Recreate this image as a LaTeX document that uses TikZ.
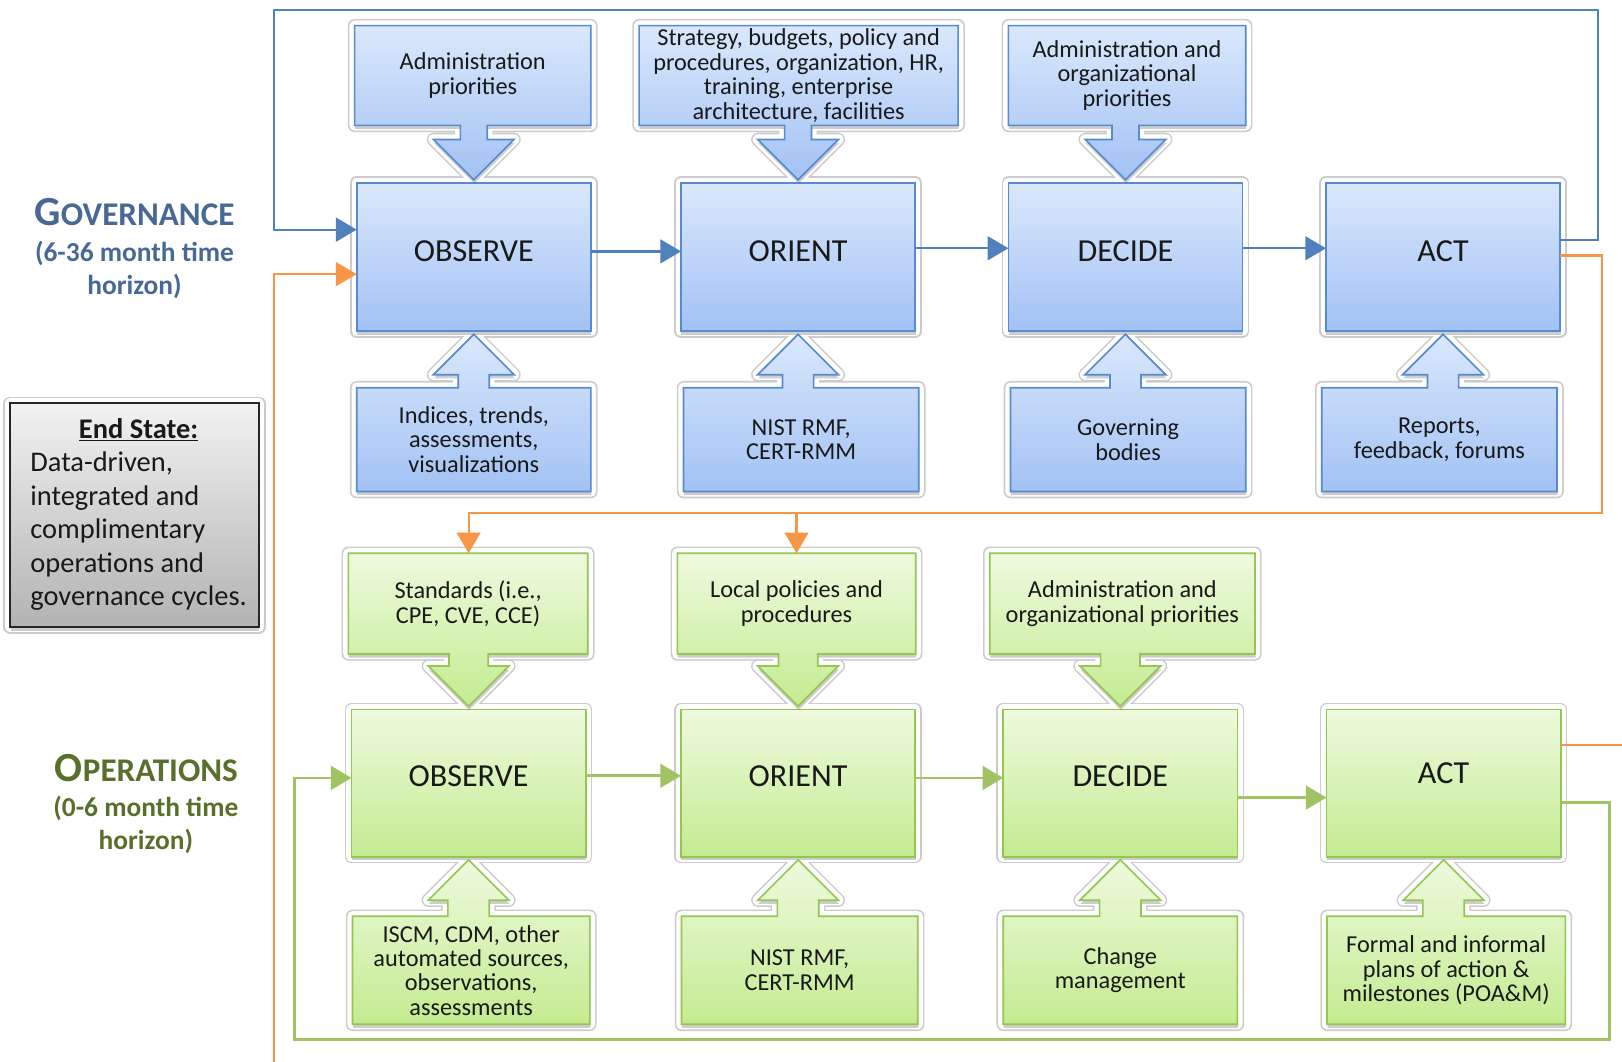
\documentclass[tikz,border=0pt]{standalone}
\usepackage{fontspec}
\setmainfont{Carlito}
\usetikzlibrary{arrows.meta,shadows,calc}

\pgfdeclarelayer{paper}
\pgfdeclarelayer{ringout}
\pgfdeclarelayer{ringin}
\pgfdeclarelayer{shapes}
\pgfsetlayers{paper,ringout,ringin,shapes,main}

\definecolor{bluetop}{RGB}{218,232,252}
\definecolor{bluebot}{RGB}{162,194,244}
\definecolor{blueedge}{RGB}{88,138,208}
\definecolor{greentop}{RGB}{238,250,222}
\definecolor{greenbot}{RGB}{196,235,144}
\definecolor{greenedge}{RGB}{148,198,82}
\definecolor{ink}{RGB}{25,25,25}
\definecolor{ringcol}{RGB}{204,204,204}
\definecolor{cBlueLine}{RGB}{79,129,189}
\definecolor{cOrange}{RGB}{247,150,70}
\definecolor{cGreenLine}{RGB}{160,195,100}
\definecolor{govcol}{RGB}{72,104,150}
\definecolor{opscol}{RGB}{88,112,44}

% fixed line spacing even when lines would touch
\newcommand\tightlines{\lineskiplimit-50pt\relax}
\newcommand\feedfont{\fontsize{23.5}{23.6}\selectfont\tightlines}
\newcommand\subfont{\bfseries\fontsize{26.5}{32}\selectfont\tightlines}

\tikzset{
  ringgray/.style={draw=ringcol, line width=13pt, line join=round},
  ringwhite/.style={draw=white, line width=10pt, line join=round},
  softshadow/.style={drop shadow={shadow xshift=0.5pt, shadow yshift=-3.5pt, opacity=.28, fill=black!70}},
  bluefill/.style={softshadow, draw=blueedge, line width=1.6pt, top color=bluetop, bottom color=bluebot},
  greenfill/.style={softshadow, draw=greenedge, line width=1.6pt, top color=greentop, bottom color=greenbot},
  grayfill/.style={softshadow, draw=black!85, line width=2.4pt, top color=black!5, bottom color=black!30},
  stage/.style={inner sep=0pt, minimum height=143pt, minimum width=226pt,
    font=\fontsize{31}{34}\selectfont, text=ink},
  feed/.style={inner sep=0pt, align=center, font=\feedfont, text=ink},
  cycletitle/.style={inner sep=0pt, font=\bfseries\fontsize{32}{32}\selectfont},
  cyclesub/.style={inner sep=0pt, align=center, font=\subfont},
  link/.style={line width=2.2pt, -{Triangle[length=20pt,width=23pt]}},
  bluelink/.style={link, draw=cBlueLine},
  greenlink/.style={link, draw=cGreenLine, line width=2.6pt},
  orangelink/.style={link, draw=cOrange, line width=2pt},
  orangewire/.style={draw=cOrange, line width=2pt},
}

% a shape with a white halo edged in light grey, filled on its own layer
\newcommand\glowshape[2]{%
  \begin{pgfonlayer}{ringout}\path[ringgray] #2;\end{pgfonlayer}%
  \begin{pgfonlayer}{ringin}\path[ringwhite] #2;\end{pgfonlayer}%
  \begin{pgfonlayer}{shapes}\path[#1] #2;\end{pgfonlayer}}
\newcommand\boxshape[2]{\glowshape{#2}{(#1.north west) rectangle (#1.south east)}}
% box with an arrow pointing down into the target node
\newcommand\downcallout[4]{%
  \glowshape{#3}{let \p1=(#1.north west), \p2=(#1.south east), \p3=(#2.north) in
    (\x1,\y1) -- (\x2,\y1) -- (\x2,\y2) -- (\x3+#4,\y2) -- (\x3+#4,\y3+42pt)
    -- (\x3+39pt,\y3+42pt) -- (\x3,\y3+3pt) -- (\x3-39pt,\y3+42pt)
    -- (\x3-#4,\y3+42pt) -- (\x3-#4,\y2) -- (\x1,\y2) -- cycle}}
% box with an arrow pointing up into the target node
\newcommand\upcallout[4]{%
  \glowshape{#3}{let \p1=(#1.north west), \p2=(#1.south east), \p3=(#2.south) in
    (\x1,\y2) -- (\x1,\y1) -- (\x3-#4,\y1) -- (\x3-#4,\y3-42pt)
    -- (\x3-39pt,\y3-42pt) -- (\x3,\y3-3pt) -- (\x3+39pt,\y3-42pt)
    -- (\x3+#4,\y3-42pt) -- (\x3+#4,\y1) -- (\x2,\y1) -- (\x2,\y2) -- cycle}}
\newcommand\lift[2]{\raisebox{#1}[\height][\depth]{#2}}

\begin{document}
\begin{tikzpicture}[x=1pt,y=-1pt]
\begin{pgfonlayer}{paper}\fill[white] (0,0) rectangle (1568,1026);\end{pgfonlayer}
\useasboundingbox (0,0) rectangle (1568,1026);

% ---------- governance cycle ----------
\node[stage] (gObs) at (458,248.5)   {\lift{5.5pt}{OBSERVE}};
\node[stage] (gOri) at (771.5,248.5) {\lift{5.5pt}{ORIENT}};
\node[stage] (gDec) at (1088,248.5)  {\lift{5.5pt}{DECIDE}};
\node[stage] (gAct) at (1395,248.5)  {\lift{5.5pt}{ACT}};

\node[feed, minimum width=228pt, minimum height=96pt] (gIn1) at (457,73)
  {Administration\\priorities};
\node[feed, minimum width=308pt, minimum height=96pt] (gIn2) at (772,73)
  {Strategy, budgets, policy and\\procedures, organization, HR,\\training, enterprise\\architecture, facilities};
\node[feed, minimum width=229pt, minimum height=96pt] (gIn3) at (1089.5,73)
  {Administration and\\organizational\\priorities};

\node[feed, minimum width=226pt, minimum height=100pt] (gSrc1) at (458,425)
  {Indices, trends,\\assessments,\\visualizations};
\node[feed, minimum width=227pt, minimum height=100pt] (gSrc2) at (774.5,425)
  {NIST RMF,\\CERT-RMM};
\node[feed, minimum width=227pt, minimum height=100pt] (gSrc3) at (1090.5,425)
  {Governing\\bodies};
\node[feed, minimum width=227pt, minimum height=100pt] (gSrc4) at (1391.5,425)
  {Reports,\\feedback, forums};

\boxshape{gObs}{bluefill}
\boxshape{gOri}{bluefill}
\boxshape{gDec}{bluefill}
\boxshape{gAct}{bluefill}
\downcallout{gIn1}{gObs}{bluefill}{13pt}
\downcallout{gIn2}{gOri}{bluefill}{13pt}
\downcallout{gIn3}{gDec}{bluefill}{13pt}
\upcallout{gSrc1}{gObs}{bluefill}{15pt}
\upcallout{gSrc2}{gOri}{bluefill}{15pt}
\upcallout{gSrc3}{gDec}{bluefill}{15pt}
\upcallout{gSrc4}{gAct}{bluefill}{15pt}

% ---------- operations cycle ----------
\node[stage, minimum height=142pt] (oObs) at (453,757)    {\lift{7pt}{OBSERVE}};
\node[stage, minimum height=142pt] (oOri) at (771.5,757)  {\lift{7pt}{ORIENT}};
\node[stage, minimum height=142pt] (oDec) at (1083,757)   {\lift{7pt}{DECIDE}};
\node[stage, minimum height=142pt] (oAct) at (1395.5,757) {\lift{10pt}{ACT}};

\node[feed, minimum width=231pt, minimum height=97pt] (oIn1) at (452.5,583.5)
  {Standards (i.e.,\\CPE, CVE, CCE)};
\node[feed, minimum width=230pt, minimum height=97pt] (oIn2) at (770,583.5)
  {Local policies and\\procedures};
\node[feed, minimum width=256pt, minimum height=97pt] (oIn3) at (1085,583.5)
  {Administration and\\organizational priorities};

\node[feed, minimum width=229pt, minimum height=104pt] (oSrc1) at (455.5,938)
  {ISCM, CDM, other\\automated sources,\\observations,\\assessments};
\node[feed, minimum width=228pt, minimum height=104pt] (oSrc2) at (773,938)
  {NIST RMF,\\CERT-RMM};
\node[feed, minimum width=226pt, minimum height=104pt] (oSrc3) at (1083,938)
  {Change\\management};
\node[feed, minimum width=230pt, minimum height=104pt] (oSrc4) at (1398,938)
  {Formal and informal\\plans of action \&\\milestones (POA\&M)};

\boxshape{oObs}{greenfill}
\boxshape{oOri}{greenfill}
\boxshape{oDec}{greenfill}
\boxshape{oAct}{greenfill}
\downcallout{oIn1}{oObs}{greenfill}{19pt}
\downcallout{oIn2}{oOri}{greenfill}{19pt}
\downcallout{oIn3}{oDec}{greenfill}{19pt}
\upcallout{oSrc1}{oObs}{greenfill}{20pt}
\upcallout{oSrc2}{oOri}{greenfill}{20pt}
\upcallout{oSrc3}{oDec}{greenfill}{20pt}
\upcallout{oSrc4}{oAct}{greenfill}{20pt}

% ---------- side labels ----------
\node[cycletitle, text=govcol, anchor=base] (govTitle) at (130,218)
  {{\fontsize{40}{40}\selectfont G}OVERNANCE};
\node[cyclesub, text=govcol] (govSpan) at (130,261) {(6-36 month time\\horizon)};
\node[cycletitle, text=opscol, anchor=base] (opsTitle) at (141.5,755)
  {{\fontsize{40}{40}\selectfont O}PERATIONS};
\node[cyclesub, text=opscol] (opsSpan) at (141,797) {(0-6 month time\\horizon)};

\node[inner sep=0pt, minimum width=240pt, minimum height=216pt, text=ink,
      font=\fontsize{27.5}{32.4}\selectfont] (endState) at (130,498)
  {\hspace*{8pt}\begin{tabular}{@{}l@{}}
    \multicolumn{1}{@{}c@{}}{\underline{\textbf{End State:}}}\\
    Data-driven,\\
    integrated and\\
    complimentary\\
    operations and\\
    governance cycles.
  \end{tabular}};
\boxshape{endState}{grayfill}

% ---------- governance connectors ----------
\draw[bluelink] ([yshift=5.5pt]gObs.east) -- ([yshift=5.5pt]gOri.west);
\draw[bluelink] ([yshift=8.5pt]gOri.east) -- ([yshift=8.5pt]gDec.west);
\draw[bluelink] ([yshift=8.5pt]gDec.east) -- ([yshift=8.5pt]gAct.west);
\coordinate (loopNE) at (1545,10);
\coordinate (loopNW) at (265,10);
\draw[bluelink] ([yshift=16.5pt]gAct.east) -| (loopNE) -- (loopNW) |- ([yshift=26.5pt]gObs.west);

% governance output feeding the operations inputs
\coordinate (feedR) at (1549,496);
\coordinate (feedL) at (453,496);
\draw[orangelink] ([yshift=1.5pt]gAct.east) -| (feedR) -- (feedL) -- (feedL |- oIn1.north);
\draw[orangelink] (oIn2.north |- feedL) -- (oIn2.north);

% operations output returning to governance
\coordinate (opsUp) at (265,1030);
\coordinate (opsOut) at (1572,720);
\draw[orangelink] (opsUp) |- ([yshift=-16.5pt]gObs.west);
\draw[orangewire] ([yshift=37pt]oAct.east) -- (opsOut);

% ---------- operations connectors ----------
\draw[greenlink] ([yshift=7pt]oObs.east) -- ([yshift=7pt]oOri.west);
\draw[greenlink] ([yshift=5pt]oOri.east) -- ([yshift=5pt]oDec.west);
\draw[greenlink] ([yshift=-14pt]oDec.east) -- ([yshift=-14pt]oAct.west);
\coordinate (opsSE) at (1556,1005);
\coordinate (opsSW) at (285,1005);
\draw[greenlink] ([yshift=-19pt]oAct.east) -| (opsSE) -- (opsSW) |- ([yshift=5pt]oObs.west);
\end{tikzpicture}
\end{document}
